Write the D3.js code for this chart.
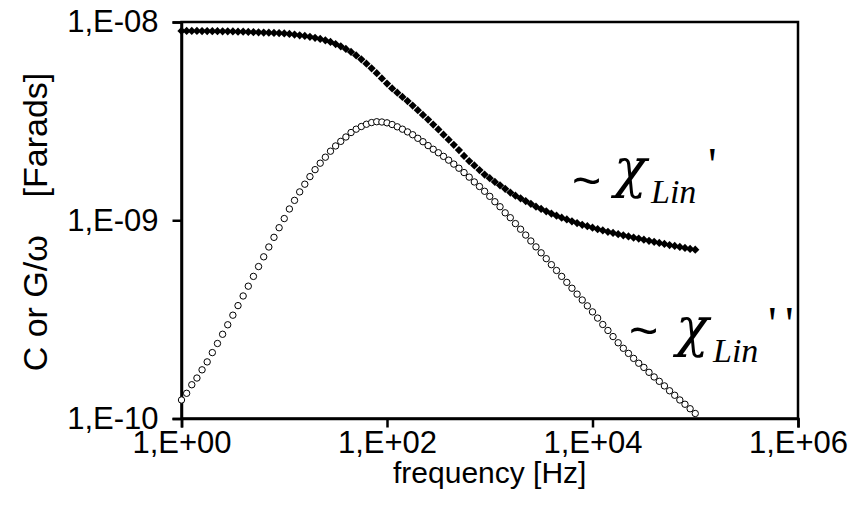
<!DOCTYPE html>
<html><head><meta charset="utf-8">
<script src="https://cdn.jsdelivr.net/npm/d3@7"></script>
<style>body{margin:0;background:#fff} svg{display:block}</style>
</head><body>
<svg id="chart" width="860" height="519"></svg>
<script>
// frequency [Hz], 20 points per decade
const frequency = [
  1,1.122,1.259,1.413,1.585,1.778,1.995,2.239,2.512,2.818,3.162,3.548,3.981,4.467,5.012,5.623,6.31,7.079,7.943,8.913,
  10,11.22,12.59,14.13,15.85,17.78,19.95,22.39,25.12,28.18,31.62,35.48,39.81,44.67,50.12,56.23,63.1,70.79,79.43,89.13,
  100,112.2,125.9,141.3,158.5,177.8,199.5,223.9,251.2,281.8,316.2,354.8,398.1,446.7,501.2,562.3,631,707.9,794.3,891.3,
  1000,1122,1259,1413,1585,1778,1995,2239,2512,2818,3162,3548,3981,4467,5012,5623,6310,7079,7943,8913,
  10000,11220,12590,14130,15850,17780,19950,22390,25120,28180,31620,35480,39810,44670,50120,56230,63100,70790,79430,89130,
  100000
];
// C  (~ chi_Lin')  [F]  filled diamonds
const capReal = [
  9.01e-9,9.01e-9,9.01e-9,9.01e-9,9.00e-9,9.00e-9,8.99e-9,8.99e-9,8.98e-9,8.97e-9,
  8.96e-9,8.94e-9,8.93e-9,8.91e-9,8.89e-9,8.87e-9,8.85e-9,8.83e-9,8.81e-9,8.79e-9,
  8.75e-9,8.70e-9,8.64e-9,8.57e-9,8.50e-9,8.42e-9,8.32e-9,8.21e-9,8.08e-9,7.93e-9,
  7.74e-9,7.54e-9,7.31e-9,7.06e-9,6.78e-9,6.48e-9,6.16e-9,5.84e-9,5.52e-9,5.19e-9,
  4.89e-9,4.62e-9,4.40e-9,4.19e-9,3.99e-9,3.79e-9,3.59e-9,3.40e-9,3.22e-9,3.04e-9,
  2.87e-9,2.70e-9,2.55e-9,2.40e-9,2.26e-9,2.11e-9,1.99e-9,1.89e-9,1.79e-9,1.70e-9,
  1.63e-9,1.56e-9,1.50e-9,1.44e-9,1.38e-9,1.33e-9,1.29e-9,1.25e-9,1.21e-9,1.17e-9,
  1.14e-9,1.11e-9,1.08e-9,1.055e-9,1.03e-9,1.01e-9,9.88e-10,9.68e-10,9.49e-10,9.33e-10,
  9.17e-10,9.02e-10,8.88e-10,8.74e-10,8.63e-10,8.51e-10,8.40e-10,8.29e-10,8.18e-10,8.08e-10,
  7.98e-10,7.88e-10,7.78e-10,7.68e-10,7.59e-10,7.50e-10,7.42e-10,7.33e-10,7.25e-10,7.17e-10,
  7.10e-10
];
// G/omega  (~ chi_Lin'')  [F]  open circles
const capImag = [
  1.24e-10,1.34e-10,1.48e-10,1.60e-10,1.76e-10,1.93e-10,2.15e-10,2.39e-10,2.66e-10,2.97e-10,
  3.32e-10,3.71e-10,4.15e-10,4.65e-10,5.21e-10,5.84e-10,6.54e-10,7.33e-10,8.20e-10,9.17e-10,
  1.02e-9,1.14e-9,1.26e-9,1.39e-9,1.52e-9,1.66e-9,1.80e-9,1.94e-9,2.08e-9,2.23e-9,
  2.37e-9,2.50e-9,2.63e-9,2.77e-9,2.88e-9,2.97e-9,3.05e-9,3.11e-9,3.14e-9,3.13e-9,
  3.10e-9,3.04e-9,2.96e-9,2.88e-9,2.79e-9,2.70e-9,2.59e-9,2.49e-9,2.38e-9,2.28e-9,
  2.19e-9,2.10e-9,2.01e-9,1.92e-9,1.83e-9,1.74e-9,1.65e-9,1.56e-9,1.48e-9,1.40e-9,
  1.32e-9,1.24e-9,1.17e-9,1.09e-9,1.03e-9,9.62e-10,9.01e-10,8.42e-10,7.86e-10,7.34e-10,
  6.85e-10,6.40e-10,5.97e-10,5.58e-10,5.21e-10,4.86e-10,4.54e-10,4.24e-10,3.96e-10,3.70e-10,
  3.45e-10,3.21e-10,2.98e-10,2.78e-10,2.59e-10,2.41e-10,2.26e-10,2.13e-10,2.01e-10,1.90e-10,
  1.81e-10,1.71e-10,1.62e-10,1.54e-10,1.46e-10,1.38e-10,1.31e-10,1.24e-10,1.18e-10,1.12e-10,
  1.06e-10
];
const xTicks = [1, 100, 10000, 1000000];
const xTickLabels = ["1,E+00","1,E+02","1,E+04","1,E+06"];
const yTicks = [1e-10, 1e-9, 1e-8];
const yTickLabels = ["1,E-10","1,E-09","1,E-08"];
const xTitle = "frequency [Hz]";
const yTitle = "C or G/\u03C9    [Farads]";

const sans = "'Liberation Sans', Arial, sans-serif";
const serif = "'DejaVu Serif', 'Liberation Serif', serif";
const m = {left:181.5, right:798, top:22, bottom:418.5};
const x = d3.scaleLog().domain([1,1e6]).range([m.left,m.right]);
const y = d3.scaleLog().domain([1e-10,1e-8]).range([m.bottom,m.top]);
const svg = d3.select("#chart");

// plot area border
svg.append("rect").attr("x",m.left).attr("y",m.top)
  .attr("width",m.right-m.left).attr("height",m.bottom-m.top)
  .attr("fill","none").attr("stroke","#000").attr("stroke-width",2.5);

const gx = svg.append("g").attr("transform",`translate(0,${m.bottom})`)
  .call(d3.axisBottom(x).tickValues(xTicks).tickFormat((d,i)=>xTickLabels[i]).tickSize(9).tickPadding(3));
const gy = svg.append("g").attr("transform",`translate(${m.left},0)`)
  .call(d3.axisLeft(y).tickValues(yTicks).tickFormat((d,i)=>yTickLabels[i]).tickSize(9).tickPadding(14));
[gx,gy].forEach(g=>{
  g.select(".domain").attr("stroke","#000").attr("stroke-width",2.5);
  g.selectAll(".tick line").attr("stroke","#000").attr("stroke-width",2.5);
  g.selectAll(".tick text").attr("font-family",sans).attr("font-size",31).attr("fill","#000");
});

// axis titles
svg.append("text").attr("x",(m.left+m.right)/2).attr("y",483).attr("text-anchor","middle")
  .attr("font-family",sans).attr("font-size",30).text(xTitle);
svg.append("text").attr("transform","translate(47,222) rotate(-90)").attr("text-anchor","middle")
  .style("white-space","pre")
  .attr("font-family",sans).attr("font-size",34).text(yTitle);

// data
const imagData = frequency.map((f,i)=>[f,capImag[i]]);
const realData = frequency.map((f,i)=>[f,capReal[i]]);
svg.append("g").selectAll("circle").data(imagData).join("circle")
  .attr("cx",d=>x(d[0])).attr("cy",d=>y(d[1])).attr("r",3.2)
  .attr("fill","#fff").attr("stroke","#000").attr("stroke-width",1);
const dia = d3.symbol().type(d3.symbolSquare).size(34);
svg.append("g").selectAll("path").data(realData).join("path")
  .attr("d",dia).attr("transform",d=>`translate(${x(d[0])},${y(d[1])}) rotate(45)`)
  .attr("fill","#000");

// annotations
function label(tx, ty, tildeDy, chiDx, primes){
  const g = svg.append("g").attr("transform",`translate(${tx},${ty})`);
  g.append("text").attr("x",0).attr("y",tildeDy).attr("font-family",sans).attr("font-size",50).text("~");
  g.append("text").attr("x",chiDx).attr("y",-11).attr("font-family",serif).attr("font-style","italic").attr("font-size",54).text("\u03C7");
  g.append("text").attr("x",chiDx+37).attr("y",5).attr("font-family","'Liberation Serif', serif").attr("font-style","italic").attr("font-size",34).text("Lin");
  primes.forEach(px=>{
    g.append("text").attr("x",px).attr("y",-17).attr("font-family","'Liberation Serif', serif").attr("font-size",48).text("'");
  });
}
label(572,198,0,42,[136]);
label(629,357,-9,47,[139,156]);
</script>
</body></html>
